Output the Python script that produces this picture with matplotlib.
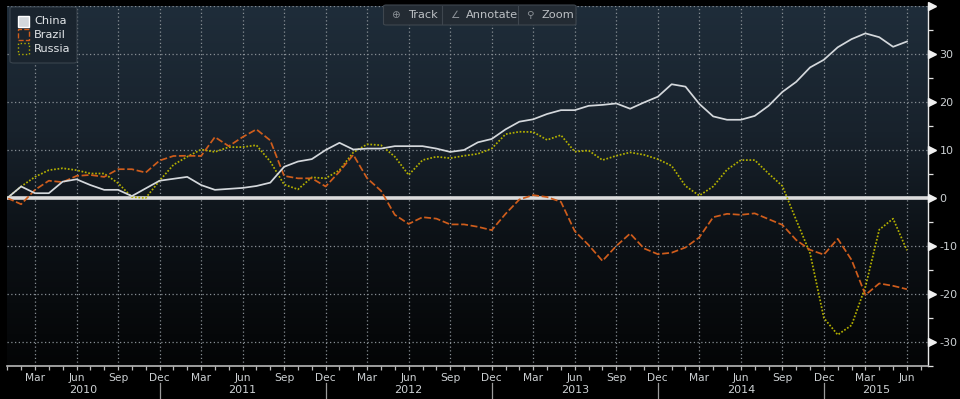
import numpy as np
import matplotlib
matplotlib.use("Agg")
import matplotlib.pyplot as plt
from matplotlib.colors import LinearSegmentedColormap
from matplotlib.patches import Rectangle, FancyBboxPatch
from matplotlib.transforms import blended_transform_factory, ScaledTranslation
from matplotlib.lines import Line2D

# ---------------- data (monthly, Jan 2010 .. Jun 2015) ----------------
start_year = 2010
n_months = 66
china = [0.0, 2.4, 1.0, 1.0, 3.4, 3.9, 2.7, 1.7, 1.7, 0.4,
         2.0, 3.6, 4.0, 4.4, 2.7, 1.7, 1.9, 2.1, 2.5, 3.2,
         6.5, 7.6, 8.1, 10.0, 11.5, 10.1, 10.3, 10.3, 10.8, 10.8,
         10.8, 10.3, 9.6, 10.0, 11.6, 12.3, 14.3, 15.9, 16.4, 17.5,
         18.3, 18.3, 19.2, 19.4, 19.7, 18.6, 19.9, 21.1, 23.7, 23.2,
         19.6, 17.0, 16.3, 16.3, 17.1, 19.2, 22.1, 24.2, 27.2, 28.8,
         31.4, 33.1, 34.3, 33.5, 31.5, 32.6]
brazil = [0.0, -1.3, 1.7, 3.6, 3.3, 4.6, 4.8, 4.4, 6.0, 6.0,
          5.3, 7.8, 8.75, 8.8, 8.75, 12.7, 10.8, 12.7, 14.3, 12.0,
          4.6, 4.1, 4.1, 2.4, 5.5, 9.0, 4.1, 1.5, -3.5, -5.4,
          -4.0, -4.3, -5.5, -5.5, -6.0, -6.7, -3.3, -0.3, 0.6, 0.2,
          -0.8, -6.9, -9.8, -13.1, -10.0, -7.4, -10.5, -11.7, -11.4, -10.3,
          -8.2, -4.0, -3.3, -3.5, -3.2, -4.4, -5.6, -8.75, -10.8, -11.8,
          -8.5, -12.9, -20.2, -17.8, -18.3, -19.0]
russia = [0.0, 2.4, 4.4, 5.8, 6.2, 5.8, 5.1, 5.1, 3.1, 0.2,
          0.0, 3.6, 6.9, 8.6, 10.1, 9.6, 10.6, 10.6, 11.0, 7.6,
          2.8, 1.8, 4.3, 4.1, 5.8, 9.5, 11.2, 11.0, 8.6, 4.8,
          7.9, 8.6, 8.3, 8.8, 9.2, 10.3, 13.3, 13.8, 13.75, 12.1,
          13.1, 9.65, 9.9, 7.9, 8.8, 9.5, 9.0, 8.1, 6.7, 2.5,
          0.5, 2.4, 5.9, 7.9, 7.9, 5.1, 2.5, -4.6, -11.5, -25.0,
          -28.5, -26.5, -18.5, -6.6, -4.3, -10.9]
series_names = ["China", "Brazil", "Russia"]
month_names = ["Jan", "Feb", "Mar", "Apr", "May", "Jun",
               "Jul", "Aug", "Sep", "Oct", "Nov", "Dec"]
years = [2010, 2011, 2012, 2013, 2014, 2015]
y_ticks = [-30, -20, -10, 0, 10, 20, 30]

# ---------------- style ----------------
W, H = 960, 399
C_CHINA = "#d4d8dc"
C_BRAZIL = "#cf5d1c"
C_RUSSIA = "#b3b000"
C_TEXT = "#ccd0d3"
C_GRID = "#878e94"

fig = plt.figure(figsize=(W / 100, H / 100), dpi=100, facecolor="black")

ax_left, ax_right, ax_top, ax_bot = 7.3, 927.7, 6.0, 366.0
ax = fig.add_axes([ax_left / W, 1 - ax_bot / H, (ax_right - ax_left) / W, (ax_bot - ax_top) / H])
XMAX = 66.5
YMIN, YMAX = -35, 40

# gradient background (top: dark blue-grey, bottom: near black)
cmap = LinearSegmentedColormap.from_list(
    "bg", [(0.0, "#1f2d3a"), (0.35, "#18222c"), (0.65, "#0c1116"), (1.0, "#040506")])
grad = np.linspace(0, 1, 256).reshape(-1, 1)
ax.imshow(grad, extent=[0, XMAX, YMIN, YMAX], origin="upper", aspect="auto", cmap=cmap, zorder=0)
ax.set_xlim(0, XMAX)
ax.set_ylim(YMIN, YMAX)

x = np.arange(n_months)
month_idx = [i % 12 for i in x]
major_x = [i for i in x if month_idx[i] in (2, 5, 8, 11)]
major_lbl = [month_names[month_idx[i]] for i in major_x]

# grid
for xv in major_x:
    ax.axvline(xv, color=C_GRID, lw=0.9, ls=(0, (1, 2)), zorder=1)
for yv in [-30, -20, -10, 10, 20, 30, 40]:
    ax.axhline(yv, color=C_GRID, lw=0.9, ls=(0, (1, 2)), zorder=1)
ax.axhline(0, color="#dcdcdc", lw=2.6, zorder=2)

# series
ax.plot(x, china, color=C_CHINA, lw=1.25, zorder=5)
ax.plot(x, brazil, color=C_BRAZIL, lw=1.25, ls=(0, (4, 1.5)), zorder=4)
ax.plot(x, russia, color=C_RUSSIA, lw=1.25, ls=(0, (1, 1)), zorder=3)

# spines
for s in ["left", "top"]:
    ax.spines[s].set_visible(False)
ax.spines["right"].set_color("#e8e8e8")
ax.spines["right"].set_linewidth(1.0)
ax.spines["bottom"].set_color("#b8b8b8")
ax.spines["bottom"].set_linewidth(1.2)

# x ticks
ax.set_xticks(major_x)
ax.set_xticklabels(major_lbl)
ax.set_xticks(list(x) + [66], minor=True)
ax.tick_params(axis="x", which="both", direction="out", length=3, width=0.9,
               color="#b8b8b8", labelsize=7.7, labelcolor=C_TEXT, pad=2)

# y ticks on right
ax.yaxis.tick_right()
ax.set_yticks(y_ticks)
ax.set_yticklabels([str(v) for v in y_ticks])
ax.set_yticks([-35, -25, -15, -5, 5, 15, 25, 35], minor=True)
ax.tick_params(axis="y", which="major", length=0, pad=8.5, labelsize=8, labelcolor=C_TEXT)
ax.tick_params(axis="y", which="minor", direction="out", length=3.5, width=0.9, color="#e0e0e0")

# triangle markers at major y ticks
tr = blended_transform_factory(ax.transAxes, ax.transData) + ScaledTranslation(4.5 / 100, 0, fig.dpi_scale_trans)
ax.plot([1] * len(y_ticks + [40]), y_ticks + [40], ls="none", marker=">", ms=6,
        color="#f0f0f0", transform=tr, clip_on=False, zorder=10)

# year labels and separators
tb = blended_transform_factory(ax.transData, ax.transAxes)
seps = [i for i in x if month_idx[i] == 11]
bounds = [0] + seps + [XMAX]
for k, yr in enumerate(years):
    cx = (bounds[k] + bounds[k + 1]) / 2
    ax.text(cx, (ax_bot - 390) / (ax_bot - ax_top), str(yr), transform=tb,
            ha="center", va="center", fontsize=8, color=C_TEXT)
for sx in seps:
    ax.plot([sx, sx], [(ax_bot - 383) / (ax_bot - ax_top), (ax_bot - 399) / (ax_bot - ax_top)],
            transform=tb, color="#9a9a9a", lw=0.9, clip_on=False)


def fx(px):
    return px / W


def fy(py):
    return 1 - py / H


# legend (manual)
fig.patches.append(FancyBboxPatch((fx(10), fy(63)), fx(67), 56 / H,
                                  boxstyle="round,pad=0,rounding_size=0.004",
                                  transform=fig.transFigure, facecolor="#1a242e",
                                  edgecolor="#39434d", lw=0.8, zorder=20))
leg_rows = [(21.0, C_CHINA, "solid", True), (34.8, C_BRAZIL, "dashed", False), (48.6, C_RUSSIA, "dotted", False)]
for (cy, col, ls, filled), name in zip(leg_rows, series_names):
    fig.patches.append(Rectangle((fx(17.5), fy(cy + 5.5)), fx(11.5), 11 / H,
                                 transform=fig.transFigure,
                                 facecolor=(col if filled else "none"),
                                 edgecolor=("#ffffff" if filled else col),
                                 lw=1.0, ls=ls, zorder=21))
    fig.text(fx(34), fy(cy + 0.5), name, fontsize=8.2, color="#e2e5e8", va="center", ha="left", zorder=22)

# toolbar (manual)
fig.patches.append(FancyBboxPatch((fx(383.5), fy(25)), fx(192.5), 20 / H,
                                  boxstyle="round,pad=0,rounding_size=0.003",
                                  transform=fig.transFigure, facecolor="#232b33",
                                  edgecolor="#3e464e", lw=0.8, zorder=20))
for sxp in [442, 518]:
    fig.lines.append(Line2D([fx(sxp), fx(sxp)], [fy(6), fy(24)], transform=fig.transFigure,
                            color="#3e464e", lw=0.8, zorder=21))
tool_items = [(395, "\u2295", 408, "Track"), (455, "\u2220", 466, "Annotate"), (530, "\u26b2", 542, "Zoom")]
for ix, icon, tx, label in tool_items:
    fig.text(fx(ix), fy(15), icon, fontsize=7.5, color="#8a9096", ha="center", va="center", zorder=22)
    fig.text(fx(tx), fy(15.5), label, fontsize=8.2, color="#bcc0c4", ha="left", va="center", zorder=22)

fig.savefig("out.png", dpi=100, facecolor="black")
